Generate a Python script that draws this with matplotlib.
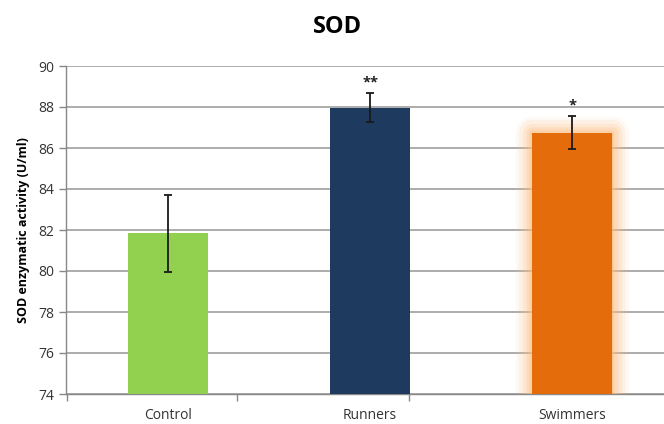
import numpy as np
import matplotlib.pyplot as plt
import matplotlib.patheffects as pe

groups = ["Control", "Runners", "Swimmers"]
sod_mean = [81.85, 87.97, 86.75]
sod_err = [1.88, 0.69, 0.8]
signif = ["", "**", "*"]
colors = ["#92d050", "#1f3a5f", "#e46c0a"]

plt.rcParams['font.family'] = ['Open Sans', 'DejaVu Sans']

fig = plt.figure(figsize=(6.64, 4.24), dpi=100)
ax = fig.add_axes([66 / 664, 1 - 394 / 424, 1 - 66 / 664, (394 - 66) / 424])

x = np.arange(len(groups))
bars = ax.bar(x, [m - 74 for m in sod_mean], bottom=74, width=0.396, color=colors, zorder=3)

# soft glow round the swimmers bar
glow = []
for w, a in [(24, 0.08), (19, 0.12), (14, 0.18), (9, 0.25), (4, 0.35)]:
    glow.append(pe.Stroke(linewidth=w, foreground="#fdbf80", alpha=a, joinstyle="round"))
glow.append(pe.Normal())
bars[2].set_path_effects(glow)

ax.errorbar(x, sod_mean, yerr=sod_err, fmt="none", ecolor="#1a1a1a",
            elinewidth=1.3, capsize=3, capthick=1.3, zorder=4)

for xi, m, e, s in zip(x, sod_mean, sod_err, signif):
    if s:
        ax.text(xi, m + e + 0.2, s, ha="center", va="bottom",
                fontsize=10.5, fontweight="bold", color="#222222")

ax.set_ylim(74, 90)
ax.set_yticks(np.arange(74, 91, 2))
ax.set_xlim(-0.505, 2.455)
ax.set_xticks(x)
ax.set_xticklabels(groups)
ax.set_xticks([-0.5, 0.342, 1.193], minor=True)
ax.tick_params(axis="x", which="major", length=0, pad=10, labelsize=10, labelcolor="#333333")
ax.tick_params(axis="x", which="minor", length=5, color="#888888", width=1)
ax.tick_params(axis="y", length=5, color="#888888", width=1, labelsize=10, labelcolor="#333333")

ax.grid(axis="y", color="#a6a6a6", linewidth=1.3, zorder=0)
ax.set_axisbelow(True)
for side in ["top", "right"]:
    ax.spines[side].set_visible(False)
for side in ["left", "bottom"]:
    ax.spines[side].set_color("#888888")
    ax.spines[side].set_linewidth(1)

ax.set_ylabel("SOD enzymatic activity (U/ml)", fontsize=9, fontweight="bold", labelpad=6)
fig.text(338 / 664, 1 - 27 / 424, "SOD", ha="center", va="center", fontsize=17, fontweight="bold")

fig.savefig("out.png", dpi=100)
